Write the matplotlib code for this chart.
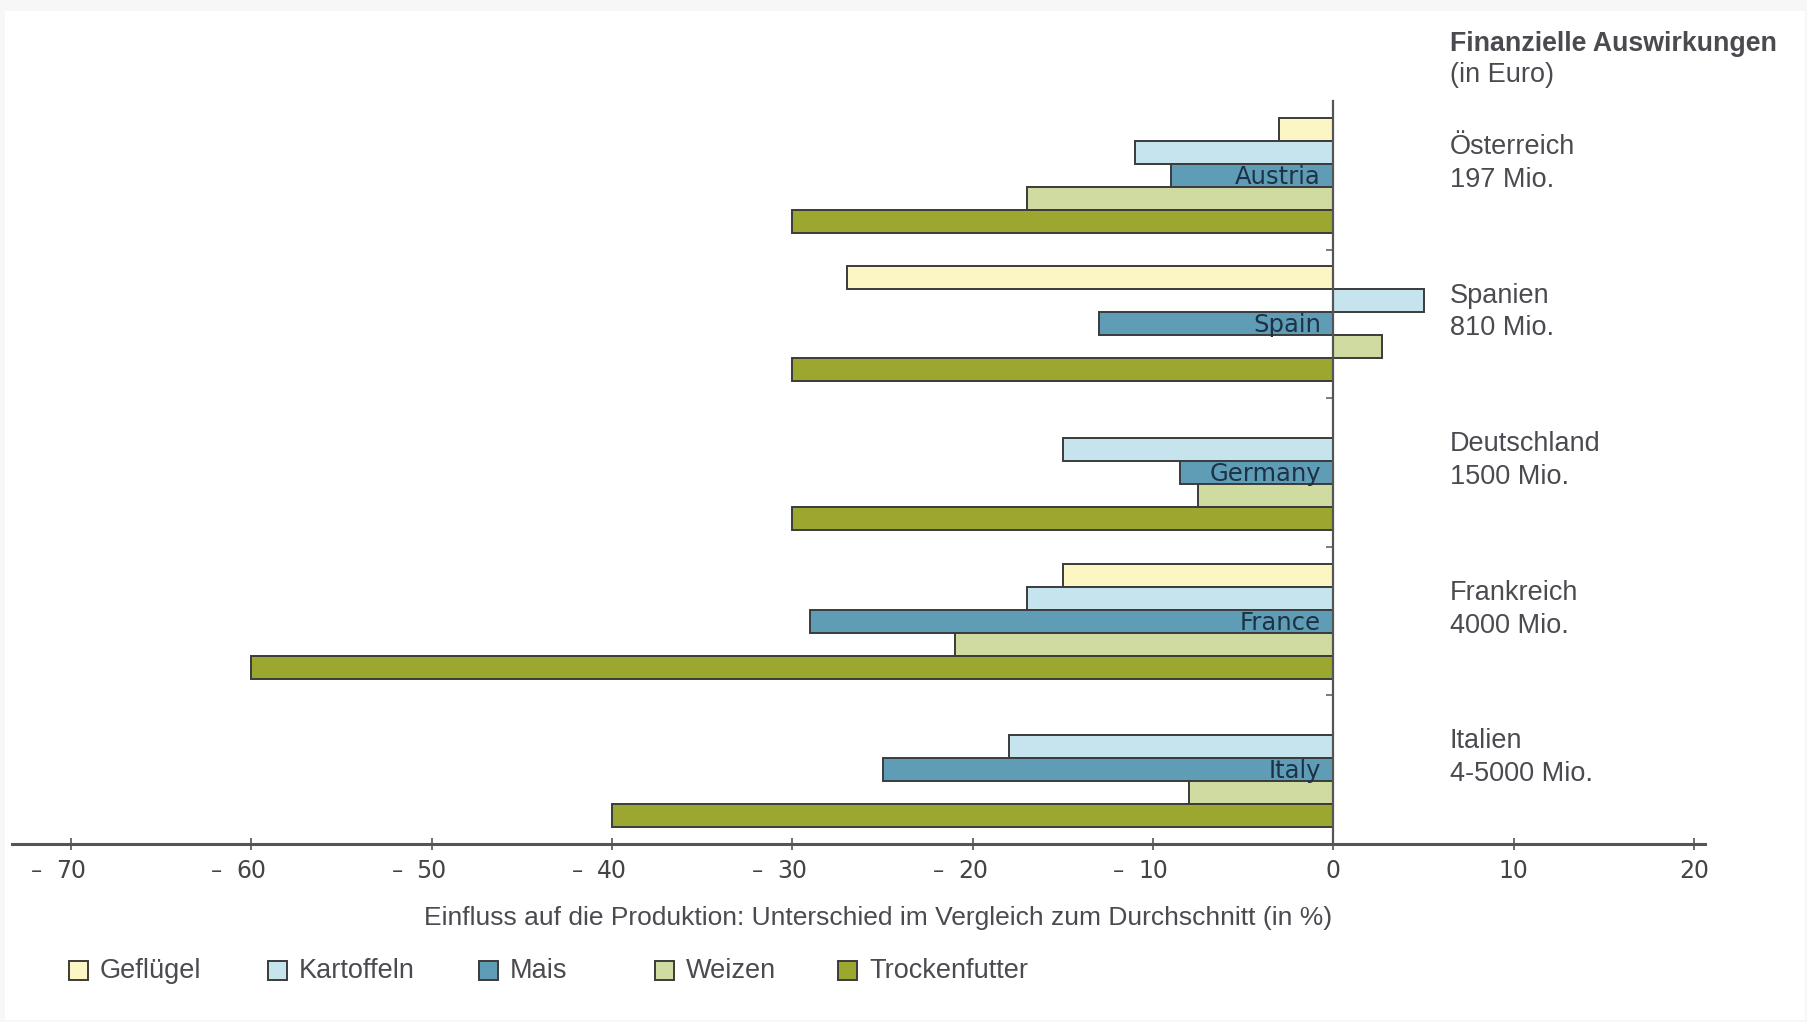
import numpy as np
import matplotlib.pyplot as plt
import matplotlib.transforms as mtransforms
from matplotlib.patches import Rectangle

# Production change per crop and country (in % vs. average)
countries = ["Austria", "Spain", "Germany", "France", "Italy"]
countries_de = ["Österreich", "Spanien", "Deutschland", "Frankreich", "Italien"]
costs = ["197 Mio.", "810 Mio.", "1500 Mio.", "4000 Mio.", "4-5000 Mio."]
crops = ["Geflügel", "Kartoffeln", "Mais", "Weizen", "Trockenfutter"]

gefluegel = [-3, -27, 0, -15, 0]
kartoffeln = [-11, 5, -15, -17, -18]
mais = [-9, -13, -8.5, -29, -25]
weizen = [-17, 2.7, -7.5, -21, -8]
trockenfutter = [-30, -30, -30, -60, -40]

x_ticks = [-70, -60, -50, -40, -30, -20, -10, 0, 10, 20]

colors = ["#fbf6c4", "#c6e4ee", "#5e9db5", "#cfdba1", "#9ba72f"]
edge = "#3b3b3b"
text_grey = "#4a4a50"
W, H = 1807, 1022
PX = 0.72  # points per pixel at dpi 100

fig = plt.figure(figsize=(W / 100, H / 100), dpi=100)
fig.patch.set_facecolor("#f7f7f7")
fig.patches.append(Rectangle((5 / W, 2 / H), 1800 / W, 1009 / H,
                             transform=fig.transFigure, facecolor="white",
                             edgecolor="none", zorder=-10))

ax = fig.add_axes([11.5 / W, 1 - 844 / H, (1705 - 11.5) / W, (844 - 101) / H])
ax.set_facecolor("none")

series = [gefluegel, kartoffeln, mais, weizen, trockenfutter]
y = np.arange(len(countries))
bh = 0.155
for i, vals in enumerate(series):
    vals = np.array(vals, dtype=float)
    ax.barh(y + (i - 2) * bh, vals, height=bh, color=colors[i],
            edgecolor=edge, linewidth=1.4, zorder=2)

# country names inside the Mais bars
for k, name in enumerate(countries):
    ax.text(-0.7, y[k] + 0.01, name, ha="right", va="center",
            fontsize=17.5, color="#1d3246", family="DejaVu Sans", zorder=4)

ax.set_xlim(-73.3, 20.6)
ax.set_ylim(4.5, -0.5)

for s in ["top", "right"]:
    ax.spines[s].set_visible(False)
ax.spines["left"].set_position(("data", 0))
ax.spines["left"].set_color("#555555")
ax.spines["left"].set_linewidth(1.6)
ax.spines["left"].set_zorder(5)
ax.spines["bottom"].set_color("#555555")
ax.spines["bottom"].set_linewidth(2.2)

ax.set_yticks([0.5, 1.5, 2.5, 3.5])
ax.set_yticklabels([])
ax.tick_params(axis="y", direction="out", length=5, width=1.2, color="#666666")

ax.set_xticks(x_ticks)
ax.set_xticklabels([])
ax.tick_params(axis="x", direction="inout", length=8, width=1.2, color="#555555")

# tick labels: number centred on the tick, dash set off to the left
xtr = ax.get_xaxis_transform()
for t in x_ticks:
    ax.annotate(str(abs(t)), xy=(t, 0), xycoords=xtr, xytext=(0, -27 * PX),
                textcoords="offset points", ha="center", va="center",
                fontsize=17, color="#444444", family="DejaVu Sans")
    if t < 0:
        ax.annotate("\u2013", xy=(t, 0), xycoords=xtr,
                    xytext=(-29 * PX, -27 * PX), textcoords="offset points",
                    ha="right", va="center", fontsize=16, color="#444444",
                    family="DejaVu Sans")

# right-hand annotations: financial impact per country
trans = mtransforms.blended_transform_factory(fig.transFigure, ax.transData)
rx = 1450 / W
for k in range(len(countries)):
    ax.text(rx, y[k] - 0.19, countries_de[k], transform=trans, ha="left",
            va="center", fontsize=19.5, color=text_grey, family="Liberation Sans")
    ax.text(rx, y[k] + 0.03, costs[k], transform=trans, ha="left",
            va="center", fontsize=19.5, color=text_grey, family="Liberation Sans")

fig.text(rx, 1 - 44 / H, "Finanzielle Auswirkungen", ha="left", va="center",
         fontsize=19.3, fontweight="bold", color=text_grey, family="Liberation Sans")
fig.text(rx, 1 - 75 / H, "(in Euro)", ha="left", va="center",
         fontsize=19.5, color=text_grey, family="Liberation Sans")

fig.text(878 / W, 1 - 918 / H,
         "Einfluss auf die Produktion: Unterschied im Vergleich zum Durchschnitt (in %)",
         ha="center", va="center", fontsize=19, color=text_grey,
         family="Liberation Sans")

# legend row
leg_x = [69, 268, 479, 655, 838]
for i, crop in enumerate(crops):
    fig.patches.append(Rectangle((leg_x[i] / W, 1 - 980 / H), 19 / W, 19 / H,
                                 transform=fig.transFigure, facecolor=colors[i],
                                 edgecolor=edge, linewidth=1.4))
    fig.text((leg_x[i] + 31) / W, 1 - 971 / H, crop, ha="left", va="center",
             fontsize=19.5, color=text_grey, family="Liberation Sans")

fig.savefig("out.png", dpi=100, facecolor=fig.get_facecolor())
